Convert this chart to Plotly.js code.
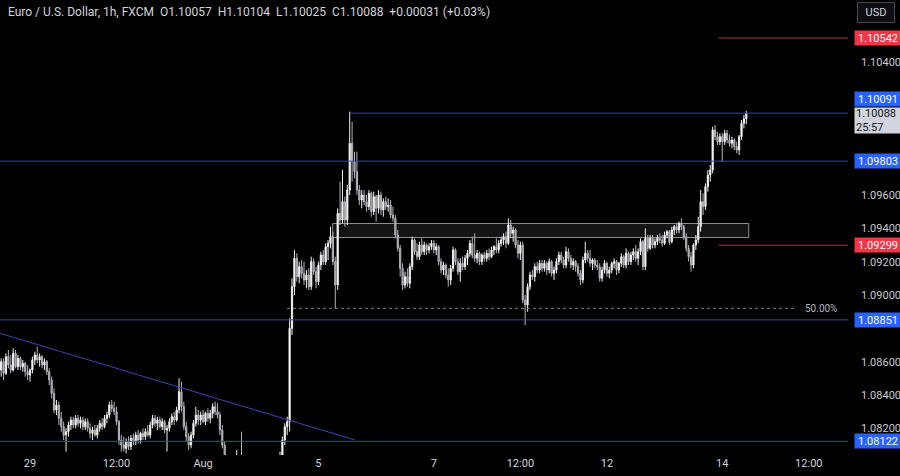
<!DOCTYPE html>
<html><head><meta charset="utf-8">
<script src="https://cdn.plot.ly/plotly-3.0.1.min.js"></script>
<style>html,body{margin:0;padding:0;background:#000;} #chart{width:900px;height:476px;}</style>
</head><body><div id="chart"></div>
<script>
// EUR/USD 1h candles (FXCM), Jul 26 20:00 UTC .. Aug 14 2024
const open=[
1.0855,1.0860,1.0853,1.0863,1.0858,1.0855,1.0865,1.0857,1.0862,1.0857,
1.0859,1.0854,1.0852,1.0855,1.0861,1.0864,1.0861,1.0863,1.0858,1.0860,
1.0854,1.0849,1.0841,1.0831,1.0834,1.0826,1.0821,1.0816,1.0818,1.0822,
1.0825,1.0822,1.0826,1.0823,1.0825,1.0821,1.0824,1.0820,1.0817,1.0819,
1.0816,1.0820,1.0823,1.0821,1.0826,1.0828,1.0834,1.0832,1.0830,1.0824,
1.0813,1.0810,1.0808,1.0812,1.0809,1.0814,1.0812,1.0816,1.0813,1.0817,
1.0815,1.0818,1.0816,1.0822,1.0826,1.0823,1.0825,1.0821,1.0824,1.0819,
1.0820,1.0824,1.0827,1.0825,1.0831,1.0842,1.0833,1.0821,1.0815,1.0810,
1.0816,1.0823,1.0828,1.0825,1.0828,1.0824,1.0829,1.0826,1.0829,1.0833,
1.0830,1.0828,1.0819,1.0810,1.0799,1.0795,1.0792,1.0788,1.0795,1.0798,
1.0791,1.0785,1.0781,1.0784,1.0788,1.0786,1.0789,1.0787,1.0790,1.0788,
1.0791,1.0793,1.0791,1.0796,1.0794,1.0797,1.0799,1.0803,1.0813,1.0821,
1.0824,1.0880,1.0905,1.0922,1.0911,1.0917,1.0913,1.0909,1.0912,1.0905,
1.0920,1.0914,1.0908,1.0918,1.0924,1.0920,1.0929,1.0931,1.0935,1.0920,
1.0906,1.0949,1.0945,1.0956,1.0945,1.0963,1.0991,1.0980,1.0974,1.0963,
1.0957,1.0960,1.0956,1.0953,1.0961,1.0950,1.0959,1.0952,1.0960,1.0951,
1.0956,1.0953,1.0954,1.0948,1.0946,1.0936,1.0928,1.0916,1.0906,1.0911,
1.0907,1.0917,1.0933,1.0926,1.0923,1.0930,1.0926,1.0930,1.0927,1.0929,
1.0931,1.0927,1.0929,1.0920,1.0915,1.0918,1.0912,1.0909,1.0916,1.0927,
1.0920,1.0914,1.0919,1.0917,1.0922,1.0925,1.0931,1.0924,1.0922,1.0925,
1.0920,1.0924,1.0922,1.0925,1.0923,1.0927,1.0929,1.0927,1.0931,1.0933,
1.0935,1.0931,1.0942,1.0937,1.0939,1.0930,1.0925,1.0930,1.0897,1.0894,
1.0905,1.0912,1.0911,1.0917,1.0915,1.0919,1.0916,1.0919,1.0915,1.0920,
1.0913,1.0915,1.0920,1.0924,1.0921,1.0918,1.0926,1.0922,1.0918,1.0920,
1.0917,1.0913,1.0909,1.0921,1.0925,1.0922,1.0919,1.0921,1.0918,1.0917,
1.0910,1.0915,1.0919,1.0913,1.0915,1.0919,1.0920,1.0915,1.0919,1.0923,
1.0918,1.0925,1.0920,1.0924,1.0926,1.0922,1.0926,1.0932,1.0917,1.0934,
1.0928,1.0934,1.0930,1.0932,1.0934,1.0933,1.0931,1.0936,1.0938,1.0932,
1.0939,1.0941,1.0939,1.0943,1.0941,1.0935,1.0928,1.0923,1.0918,1.0930,
1.0933,1.0941,1.0956,1.0953,1.0965,1.0972,1.0975,1.0999,1.0995,1.0992,
1.0995,1.0992,1.0997,1.0993,1.0991,1.0993,1.0989,1.0987,1.0995,1.1003,
1.10057];
const high=[
1.0862,1.0862,1.0865,1.0867,1.0864,1.0868,1.0867,1.0864,1.0863,1.0861,
1.0860,1.0858,1.0856,1.0863,1.0866,1.0869,1.0865,1.0864,1.0862,1.0861,
1.0856,1.0851,1.0844,1.0837,1.0836,1.0830,1.0824,1.0820,1.0824,1.0827,
1.0827,1.0828,1.0828,1.0827,1.0827,1.0826,1.0826,1.0823,1.0821,1.0822,
1.0822,1.0825,1.0826,1.0828,1.0830,1.0836,1.0837,1.0836,1.0833,1.0825,
1.0816,1.0815,1.0814,1.0815,1.0816,1.0817,1.0818,1.0819,1.0818,1.0820,
1.0820,1.0822,1.0824,1.0828,1.0828,1.0827,1.0827,1.0826,1.0825,1.0822,
1.0826,1.0829,1.0830,1.0833,1.0850,1.0848,1.0836,1.0824,1.0817,1.0818,
1.0825,1.0833,1.0831,1.0830,1.0831,1.0830,1.0832,1.0831,1.0835,1.0836,
1.0835,1.0830,1.0822,1.0812,1.0803,1.0800,1.0798,1.0797,1.0807,1.0802,
1.0818,1.0790,1.0787,1.0790,1.0792,1.0791,1.0793,1.0792,1.0794,1.0793,
1.0796,1.0797,1.0798,1.0800,1.0799,1.0802,1.0806,1.0815,1.0823,1.0827,
1.0886,1.0910,1.0927,1.0925,1.0920,1.0921,1.0920,1.0915,1.0916,1.0923,
1.0922,1.0917,1.0920,1.0926,1.0927,1.0931,1.0933,1.0941,1.0938,1.0923,
1.0952,1.0968,1.0975,1.0959,1.0966,1.1010,1.1004,1.0986,1.0986,1.0966,
1.0963,1.0963,1.0960,1.0963,1.0962,1.0962,1.0960,1.0963,1.0962,1.0958,
1.0959,1.0958,1.0957,1.0953,1.0948,1.0939,1.0930,1.0919,1.0914,1.0916,
1.0919,1.0935,1.0934,1.0931,1.0932,1.0934,1.0932,1.0931,1.0931,1.0933,
1.0933,1.0931,1.0930,1.0922,1.0920,1.0919,1.0916,1.0918,1.0929,1.0928,
1.0922,1.0922,1.0923,1.0924,1.0927,1.0933,1.0935,1.0937,1.0927,1.0926,
1.0925,1.0926,1.0927,1.0928,1.0929,1.0930,1.0934,1.0933,1.0935,1.0937,
1.0938,1.0946,1.0945,1.0941,1.0940,1.0933,1.0932,1.0932,1.0900,1.0907,
1.0914,1.0915,1.0919,1.0920,1.0921,1.0921,1.0921,1.0920,1.0922,1.0921,
1.0917,1.0922,1.0926,1.0926,1.0923,1.0929,1.0928,1.0924,1.0922,1.0921,
1.0919,1.0915,1.0923,1.0932,1.0927,1.0927,1.0922,1.0922,1.0921,1.0919,
1.0917,1.0921,1.0920,1.0917,1.0920,1.0922,1.0921,1.0920,1.0925,1.0924,
1.0928,1.0926,1.0926,1.0928,1.0930,1.0928,1.0934,1.0933,1.0940,1.0936,
1.0936,1.0936,1.0934,1.0936,1.0937,1.0936,1.0938,1.0939,1.0939,1.0941,
1.0942,1.0943,1.0944,1.0946,1.0942,1.0937,1.0930,1.0926,1.0931,1.0936,
1.0947,1.0963,1.0961,1.0967,1.0975,1.0978,1.1001,1.1002,1.0998,1.0997,
1.0997,1.0999,1.0999,1.0996,1.0995,1.0994,1.0992,1.0996,1.1005,1.1008,
1.10104];
const low=[
1.0851,1.0849,1.0852,1.0856,1.0853,1.0854,1.0856,1.0855,1.0855,1.0854,
1.0851,1.0849,1.0848,1.0853,1.0858,1.0859,1.0857,1.0856,1.0855,1.0852,
1.0846,1.0838,1.0829,1.0828,1.0822,1.0818,1.0813,1.0806,1.0815,1.0819,
1.0820,1.0820,1.0821,1.0820,1.0819,1.0819,1.0818,1.0814,1.0813,1.0815,
1.0814,1.0818,1.0819,1.0820,1.0823,1.0826,1.0830,1.0828,1.0822,1.0810,
1.0806,1.0806,1.0805,1.0807,1.0807,1.0810,1.0810,1.0811,1.0811,1.0813,
1.0813,1.0815,1.0814,1.0820,1.0821,1.0819,1.0820,1.0819,1.0817,1.0806,
1.0818,1.0822,1.0822,1.0824,1.0829,1.0830,1.0819,1.0812,1.0807,1.0808,
1.0814,1.0821,1.0822,1.0822,1.0823,1.0822,1.0824,1.0823,1.0826,1.0828,
1.0826,1.0816,1.0808,1.0796,1.0790,1.0788,1.0785,1.0786,1.0792,1.0788,
1.0780,1.0777,1.0777,1.0780,1.0783,1.0782,1.0785,1.0784,1.0786,1.0785,
1.0788,1.0789,1.0789,1.0792,1.0790,1.0794,1.0796,1.0801,1.0810,1.0816,
1.0818,1.0876,1.0900,1.0908,1.0907,1.0910,1.0906,1.0904,1.0903,1.0903,
1.0912,1.0904,1.0906,1.0915,1.0918,1.0918,1.0921,1.0928,1.0918,1.0892,
1.0903,1.0942,1.0943,1.0941,1.0942,1.0960,1.0968,1.0970,1.0960,1.0954,
1.0952,1.0954,1.0950,1.0951,1.0947,1.0948,1.0944,1.0949,1.0948,1.0947,
1.0951,1.0950,1.0946,1.0944,1.0934,1.0926,1.0911,1.0903,1.0904,1.0905,
1.0904,1.0915,1.0924,1.0921,1.0921,1.0924,1.0924,1.0924,1.0925,1.0927,
1.0925,1.0924,1.0918,1.0913,1.0912,1.0910,1.0905,1.0906,1.0914,1.0918,
1.0912,1.0908,1.0915,1.0915,1.0918,1.0923,1.0922,1.0920,1.0919,1.0918,
1.0918,1.0920,1.0920,1.0921,1.0922,1.0924,1.0925,1.0925,1.0929,1.0930,
1.0928,1.0930,1.0934,1.0932,1.0928,1.0922,1.0921,1.0895,1.0882,1.0890,
1.0903,1.0909,1.0908,1.0913,1.0913,1.0914,1.0914,1.0912,1.0913,1.0911,
1.0909,1.0913,1.0918,1.0919,1.0916,1.0916,1.0920,1.0916,1.0915,1.0914,
1.0911,1.0906,1.0907,1.0919,1.0920,1.0917,1.0915,1.0916,1.0915,1.0908,
1.0908,1.0913,1.0911,1.0910,1.0913,1.0916,1.0912,1.0913,1.0917,1.0916,
1.0916,1.0918,1.0918,1.0921,1.0920,1.0918,1.0924,1.0915,1.0915,1.0926,
1.0927,1.0928,1.0928,1.0930,1.0931,1.0929,1.0930,1.0934,1.0930,1.0931,
1.0936,1.0937,1.0937,1.0939,1.0933,1.0926,1.0920,1.0914,1.0916,1.0927,
1.0931,1.0938,1.0948,1.0951,1.0962,1.0968,1.0973,1.0993,1.0990,1.0990,
1.0980,1.0990,1.0991,1.0989,1.0988,1.0987,1.0985,1.0984,1.0993,1.1000,
1.10025];
const close=[
1.0860,1.0853,1.0863,1.0858,1.0855,1.0865,1.0857,1.0862,1.0857,1.0859,
1.0854,1.0852,1.0855,1.0861,1.0864,1.0861,1.0863,1.0858,1.0860,1.0854,
1.0849,1.0841,1.0831,1.0834,1.0826,1.0821,1.0816,1.0818,1.0822,1.0825,
1.0822,1.0826,1.0823,1.0825,1.0821,1.0824,1.0820,1.0817,1.0819,1.0816,
1.0820,1.0823,1.0821,1.0826,1.0828,1.0834,1.0832,1.0830,1.0824,1.0813,
1.0810,1.0808,1.0812,1.0809,1.0814,1.0812,1.0816,1.0813,1.0817,1.0815,
1.0818,1.0816,1.0822,1.0826,1.0823,1.0825,1.0821,1.0824,1.0819,1.0820,
1.0824,1.0827,1.0825,1.0831,1.0842,1.0833,1.0821,1.0815,1.0810,1.0816,
1.0823,1.0828,1.0825,1.0828,1.0824,1.0829,1.0826,1.0829,1.0833,1.0830,
1.0828,1.0819,1.0810,1.0799,1.0795,1.0792,1.0788,1.0795,1.0798,1.0791,
1.0785,1.0781,1.0784,1.0788,1.0786,1.0789,1.0787,1.0790,1.0788,1.0791,
1.0793,1.0791,1.0796,1.0794,1.0797,1.0799,1.0803,1.0813,1.0821,1.0824,
1.0880,1.0905,1.0922,1.0911,1.0917,1.0913,1.0909,1.0912,1.0905,1.0920,
1.0914,1.0908,1.0918,1.0924,1.0920,1.0929,1.0931,1.0935,1.0920,1.0906,
1.0949,1.0945,1.0956,1.0945,1.0963,1.0991,1.0980,1.0974,1.0963,1.0957,
1.0960,1.0956,1.0953,1.0961,1.0950,1.0959,1.0952,1.0960,1.0951,1.0956,
1.0953,1.0954,1.0948,1.0946,1.0936,1.0928,1.0916,1.0906,1.0911,1.0907,
1.0917,1.0933,1.0926,1.0923,1.0930,1.0926,1.0930,1.0927,1.0929,1.0931,
1.0927,1.0929,1.0920,1.0915,1.0918,1.0912,1.0909,1.0916,1.0927,1.0920,
1.0914,1.0919,1.0917,1.0922,1.0925,1.0931,1.0924,1.0922,1.0925,1.0920,
1.0924,1.0922,1.0925,1.0923,1.0927,1.0929,1.0927,1.0931,1.0933,1.0935,
1.0931,1.0942,1.0937,1.0939,1.0930,1.0925,1.0930,1.0897,1.0894,1.0905,
1.0912,1.0911,1.0917,1.0915,1.0919,1.0916,1.0919,1.0915,1.0920,1.0913,
1.0915,1.0920,1.0924,1.0921,1.0918,1.0926,1.0922,1.0918,1.0920,1.0917,
1.0913,1.0909,1.0921,1.0925,1.0922,1.0919,1.0921,1.0918,1.0917,1.0910,
1.0915,1.0919,1.0913,1.0915,1.0919,1.0920,1.0915,1.0919,1.0923,1.0918,
1.0925,1.0920,1.0924,1.0926,1.0922,1.0926,1.0932,1.0917,1.0934,1.0928,
1.0934,1.0930,1.0932,1.0934,1.0933,1.0931,1.0936,1.0938,1.0932,1.0939,
1.0941,1.0939,1.0943,1.0941,1.0935,1.0928,1.0923,1.0918,1.0930,1.0933,
1.0941,1.0956,1.0953,1.0965,1.0972,1.0975,1.0999,1.0995,1.0992,1.0995,
1.0992,1.0997,1.0993,1.0991,1.0993,1.0989,1.0987,1.0995,1.1003,1.10057,
1.10088];

// time axis: candle index of each tick label
const tickIdx=[12,48,84,132,180,216,252,300,336];
const tickText=['29','12:00','Aug','5','7','12:00','12','14','12:00'];
// price axis labels left visible (the others sit under the level tags)
const priceTicks=[1.104,1.096,1.094,1.092,1.090,1.086,1.084,1.082];

// drawn levels
const blueLevels=[1.09803,1.08851,1.08122];
const peakLevel=1.10091;
const redLevels=[1.10542,1.09299];
const zone=[1.09345,1.09429];
const fibLevel=1.0892;
const trendPrices=[1.0877,1.0813];
const lastClose=1.10088;
const countdown='25:57';
const titleText='Euro / U.S. Dollar, 1h, FXCM\u00a0\u00a0O1.10057\u00a0\u00a0H1.10104\u00a0\u00a0L1.10025\u00a0\u00a0C1.10088\u00a0\u00a0+0.00031 (+0.03%)';

const idx=close.map((_,i)=>i);
const XR=[-0.48,352.3];
const BLUE='#3a46b0', RED='#b8323c';

const trace={type:'candlestick',x:idx,open:open,high:high,low:low,close:close,
  increasing:{line:{color:'#f0f0f0',width:1},fillcolor:'#ffffff'},
  decreasing:{line:{color:'#b4b6bc',width:1},fillcolor:'#8e9097'},
  whiskerwidth:0,hoverinfo:'skip'};

const shapes=[];
blueLevels.forEach(v=>shapes.push({type:'line',xref:'paper',yref:'y',x0:0,x1:1,y0:v,y1:v,line:{color:BLUE,width:1}}));
shapes.push({type:'line',xref:'x',yref:'y',x0:145,x1:XR[1],y0:peakLevel,y1:peakLevel,line:{color:BLUE,width:1}});
redLevels.forEach(v=>shapes.push({type:'line',xref:'x',yref:'y',x0:298.6,x1:XR[1],y0:v,y1:v,line:{color:RED,width:1}}));
shapes.push({type:'line',xref:'x',yref:'y',x0:XR[0],x1:147.2,y0:trendPrices[0],y1:trendPrices[1],line:{color:BLUE,width:1}});
shapes.push({type:'rect',xref:'x',yref:'y',x0:137.9,x1:311,y0:zone[0],y1:zone[1],fillcolor:'rgba(255,255,255,0.08)',line:{color:'#8c8c8c',width:1},layer:'below'});
shapes.push({type:'line',xref:'x',yref:'y',x0:118.9,x1:331,y0:fibLevel,y1:fibLevel,line:{color:'#7d7f87',width:1,dash:'dot'}});

function tag(price,text,bg,fg,h){
  return {xref:'paper',yref:'y',x:1+6/848,y:price,xanchor:'left',yanchor:'middle',text:text,showarrow:false,
    bgcolor:bg,font:{color:fg,size:11},width:44,height:h||12,borderpad:1,align:'center'};
}
const annotations=[
  tag(redLevels[0],'1.10542','#f23645','#ffffff'),
  tag(1.10178,'1.10091','#2962ff','#ffffff'),
  Object.assign(tag(1.10048,lastClose.toFixed(5)+'<br>'+countdown,'#d1d4dc','#131722',23),{align:'left'}),
  tag(blueLevels[0],'1.09803','#2962ff','#ffffff'),
  tag(redLevels[1],'1.09299','#f23645','#ffffff'),
  tag(blueLevels[1],'1.08851','#2962ff','#ffffff'),
  tag(blueLevels[2],'1.08122','#2962ff','#ffffff'),
  {xref:'paper',yref:'paper',x:876/848,y:1-12/455,xanchor:'center',yanchor:'middle',text:'USD',showarrow:false,
   bgcolor:'#0c0e14',bordercolor:'#434651',borderwidth:1,borderpad:2,width:32,height:15,font:{color:'#d1d4dc',size:11}},
  {xref:'paper',yref:'paper',x:6/848,y:1-12/455,xanchor:'left',yanchor:'middle',text:titleText,showarrow:false,
   font:{color:'#d1d4dc',size:12}},
  {xref:'x',yref:'y',x:333.5,y:fibLevel,xanchor:'left',yanchor:'middle',text:'50.00%',showarrow:false,font:{color:'#b2b5be',size:10}}
];

const layout={width:900,height:476,margin:{l:0,r:52,t:0,b:21},
  paper_bgcolor:'#000000',plot_bgcolor:'#000000',showlegend:false,dragmode:false,
  font:{family:'Roboto, "Liberation Sans", sans-serif',size:11,color:'#d1d4dc'},
  xaxis:{type:'linear',range:XR,tickvals:tickIdx,ticktext:tickText,showgrid:false,zeroline:false,showline:false,
    ticks:'',rangeslider:{visible:false},tickfont:{size:11,color:'#d1d4dc'},fixedrange:true},
  yaxis:{side:'right',range:[1.0804,1.1077],tickvals:priceTicks,tickformat:'.5f',showgrid:false,zeroline:false,
    showline:false,ticks:'',ticklabelstandoff:12,tickfont:{size:11,color:'#c8cad0'},fixedrange:true},
  shapes:shapes,annotations:annotations};

Plotly.newPlot('chart',[trace],layout,{displayModeBar:false,staticPlot:true});
</script></body></html>
